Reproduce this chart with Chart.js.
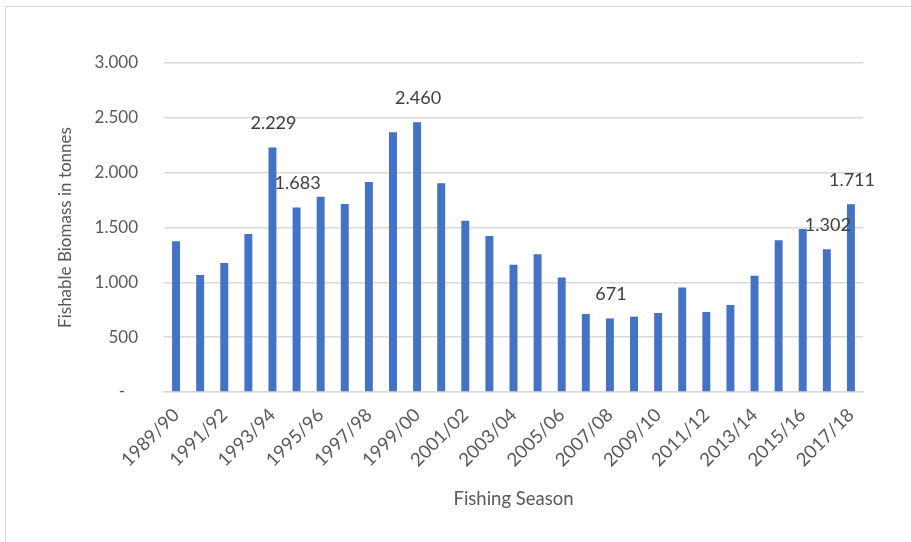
<!DOCTYPE html>
<html>
<head>
<meta charset="utf-8">
<script src="https://cdn.jsdelivr.net/npm/chart.js@4.4.1/dist/chart.umd.min.js"></script>
<style>
  html, body { margin: 0; padding: 0; background: #fff; overflow: hidden; }
  #frame { position: absolute; left: 5px; top: 6px; width: 920px; height: 560px;
           border-left: 1px solid #d9d9d9; border-top: 1px solid #d9d9d9; }
  #wrap { position: absolute; left: 0; top: 0; width: 911px; height: 542px; }
</style>
</head>
<body>
<div id="frame"></div>
<div id="wrap"><canvas id="c" width="911" height="542"></canvas></div>
<script>
const categories = ["1989/90","1990/91","1991/92","1992/93","1993/94","1994/95","1995/96","1996/97","1997/98","1998/99","1999/00","2000/01","2001/02","2002/03","2003/04","2004/05","2005/06","2006/07","2007/08","2008/09","2009/10","2010/11","2011/12","2012/13","2013/14","2014/15","2015/16","2016/17","2017/18"];
const biomass = [1374,1067,1176,1441,2229,1683,1781,1714,1915,2368,2460,1903,1562,1423,1161,1256,1043,711,671,687,720,952,730,793,1061,1383,1487,1302,1711];
const labelledIndices = [4,5,10,18,27,28];
const yTicks = [0,500,1000,1500,2000,2500,3000];

function fmt(v) {
  if (v === 0) return '-';
  return Math.round(v).toString().replace(/\B(?=(\d{3})+(?!\d))/g, '.');
}

const FONT = 'Lato, "Open Sans", sans-serif';

const dataLabelPlugin = {
  id: 'dataLabels',
  afterDatasetsDraw(chart) {
    const ctx = chart.ctx;
    const meta = chart.getDatasetMeta(0);
    ctx.save();
    ctx.font = '18px ' + FONT;
    ctx.fillStyle = '#404040';
    ctx.textAlign = 'center';
    ctx.textBaseline = 'middle';
    labelledIndices.forEach(i => {
      const bar = meta.data[i];
      ctx.fillText(fmt(biomass[i]), bar.x + 1, bar.y - 24);
    });
    ctx.restore();
  }
};

new Chart(document.getElementById('c'), {
  type: 'bar',
  data: {
    labels: categories,
    datasets: [{
      data: biomass,
      backgroundColor: '#4472C4',
      borderWidth: 0,
      barPercentage: 0.66,
      categoryPercentage: 0.5
    }]
  },
  options: {
    responsive: false,
    animation: false,
    layout: { padding: { left: 0, top: 63, right: 48, bottom: 0 } },
    plugins: { legend: { display: false }, tooltip: { enabled: false } },
    scales: {
      x: {
        grid: { display: false, drawTicks: false },
        border: { display: true, color: '#d9d9d9', width: 1.5 },
        ticks: {
          autoSkip: false,
          minRotation: 45, maxRotation: 45,
          padding: 12,
          color: '#595959',
          font: { family: FONT, size: 18.5 },
          callback: (v, i) => (i % 2 === 0 ? categories[i] : '')
        },
        title: {
          display: true, text: 'Fishing Season', color: '#595959',
          font: { family: FONT, size: 18.5 },
          padding: { top: 0, bottom: 32 }
        },
        afterFit(s) { s.height = 150; }
      },
      y: {
        min: 0, max: 3000,
        afterBuildTicks(s) { s.ticks = yTicks.map(v => ({ value: v })); },
        grid: { color: '#d9d9d9', lineWidth: 1.5, drawTicks: false },
        border: { display: false },
        ticks: {
          padding: 26,
          color: '#595959',
          font: { family: FONT, size: 17 },
          callback: v => (v === 0 ? '-   ' : fmt(v))
        },
        title: {
          display: true, text: 'Fishable Biomass in tonnes', color: '#595959',
          font: { family: FONT, size: 17 },
          padding: { top: 55, bottom: 0 }
        },
        afterFit(s) { s.width = 164; }
      }
    }
  },
  plugins: [dataLabelPlugin]
});
</script>
</body>
</html>
